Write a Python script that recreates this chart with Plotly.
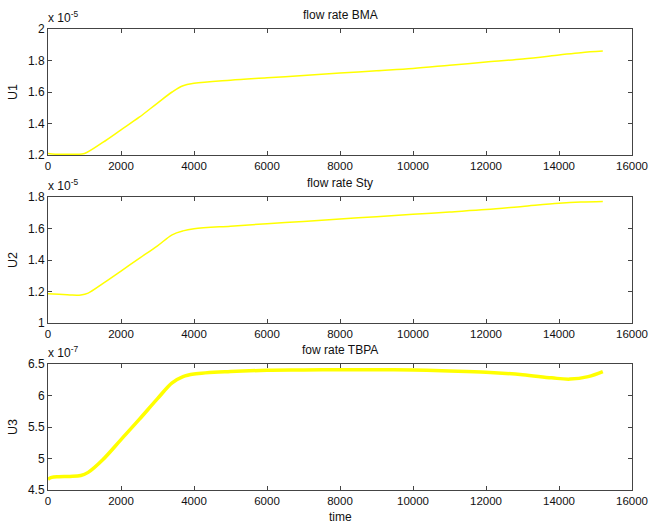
import plotly.graph_objects as go

# ---- data ----
t1 = [0, 200, 500, 800, 1000, 1500, 2000, 2500, 3000, 3400, 3700, 4000, 5000, 6000, 7000, 8000, 9000, 10000, 11000, 12000, 13000, 14000, 14600, 15200]
u1 = [1.21, 1.205, 1.205, 1.205, 1.21, 1.28, 1.36, 1.44, 1.53, 1.60, 1.64, 1.655, 1.675, 1.69, 1.705, 1.72, 1.735, 1.75, 1.77, 1.79, 1.81, 1.835, 1.85, 1.86]

t2 = [0, 300, 600, 900, 1100, 1500, 2000, 2500, 3000, 3400, 3700, 4000, 5000, 6000, 7000, 8000, 9000, 10000, 11000, 12000, 13000, 14000, 14600, 15200]
u2 = [1.185, 1.182, 1.178, 1.178, 1.19, 1.25, 1.33, 1.41, 1.49, 1.56, 1.585, 1.598, 1.615, 1.63, 1.645, 1.66, 1.675, 1.69, 1.705, 1.72, 1.74, 1.76, 1.768, 1.772]

t3 = [0, 100, 300, 600, 900, 1100, 1500, 2000, 2500, 3000, 3400, 3700, 4000, 5000, 6000, 7000, 8000, 9000, 10000, 11000, 12000, 13000, 13800, 14300, 14800, 15200]
u3 = [4.67, 4.70, 4.71, 4.715, 4.73, 4.78, 4.98, 5.30, 5.62, 5.95, 6.20, 6.30, 6.34, 6.38, 6.40, 6.405, 6.41, 6.41, 6.405, 6.39, 6.37, 6.33, 6.28, 6.26, 6.30, 6.38]

x_ticks = [0, 2000, 4000, 6000, 8000, 10000, 12000, 14000, 16000]
y1_ticks = [1.2, 1.4, 1.6, 1.8, 2]
y2_ticks = [1, 1.2, 1.4, 1.6, 1.8]
y3_ticks = [4.5, 5, 5.5, 6, 6.5]
titles = ["flow rate BMA", "flow rate Sty", "fow rate TBPA"]
ylabels = ["U1", "U2", "U3"]
exps = ["-5", "-5", "-7"]

FONT = "Liberation Sans, Arial, Helvetica, sans-serif"
W, H = 649, 527
L, R, T, B = 48, 632, 29, 490
PW, PH = R - L, B - T


def px_x(x):
    return (x - L) / PW


def px_y(y):
    return (B - y) / PH


fig = go.Figure()

series = [(t1, u1, 1.5), (t2, u2, 1.5), (t3, u3, 3.5)]
domains_px = [(29, 155), (197, 323), (364, 490)]
yt = [y1_ticks, y2_ticks, y3_ticks]

for i, (t, u, w) in enumerate(series):
    n = "" if i == 0 else str(i + 1)
    fig.add_trace(go.Scatter(x=t, y=u, mode="lines", line=dict(color="#ffff00", width=w, shape="spline"),
                             xaxis="x" + n, yaxis="y" + n, showlegend=False, hoverinfo="skip"))
    top, bot = domains_px[i]
    dom = [px_y(bot), px_y(top)]
    common = dict(showline=True, linecolor="#444", linewidth=1, mirror="ticks", ticks="inside",
                  ticklen=4, tickcolor="#444", showgrid=False, zeroline=False, automargin=False,
                  ticklabeloverflow="allow")
    fig.layout["xaxis" + n] = dict(domain=[0, 1], range=[0, 16000], tickvals=x_ticks,
                                   ticktext=[str(v) for v in x_ticks], anchor="y" + n,
                                   tickfont=dict(family=FONT, size=11.5, color="#111"), **common)
    fig.layout["yaxis" + n] = dict(domain=dom, range=[yt[i][0], yt[i][-1]], tickvals=yt[i],
                                   ticktext=[("%g" % v) for v in yt[i]], anchor="x" + n,
                                   tickfont=dict(family=FONT, size=12, color="#111"), **common)
    # y label
    fig.add_annotation(text=ylabels[i], x=px_x(13), y=px_y((top + bot) / 2), xref="paper", yref="paper",
                       showarrow=False, textangle=-90, xanchor="center", yanchor="middle",
                       font=dict(family=FONT, size=12.5, color="#111"))
    # title
    fig.add_annotation(text=titles[i], x=px_x(340), y=px_y(top - 14), xref="paper", yref="paper",
                       showarrow=False, font=dict(family=FONT, size=12, color="#111"), yanchor="middle")
    # exponent
    fig.add_annotation(text="x 10<sup>" + exps[i] + "</sup>", x=px_x(46), y=px_y(top - 2),
                       xref="paper", yref="paper", showarrow=False, xanchor="left", yanchor="bottom",
                       font=dict(family=FONT, size=12, color="#111"))

fig.add_annotation(text="time", x=px_x(340), y=px_y(517), xref="paper", yref="paper", showarrow=False,
                   font=dict(family=FONT, size=12, color="#111"), yanchor="middle")

fig.update_layout(width=W, height=H, margin=dict(l=L, r=W - R, t=T, b=H - B, autoexpand=False),
                  paper_bgcolor="white", plot_bgcolor="white", hovermode=False)

fig.write_html(
    "out.html",
    config={"displayModeBar": False},
    post_script="document.body.style.margin='0';document.body.style.overflow='hidden';"
                "document.documentElement.style.overflow='hidden';",
)
